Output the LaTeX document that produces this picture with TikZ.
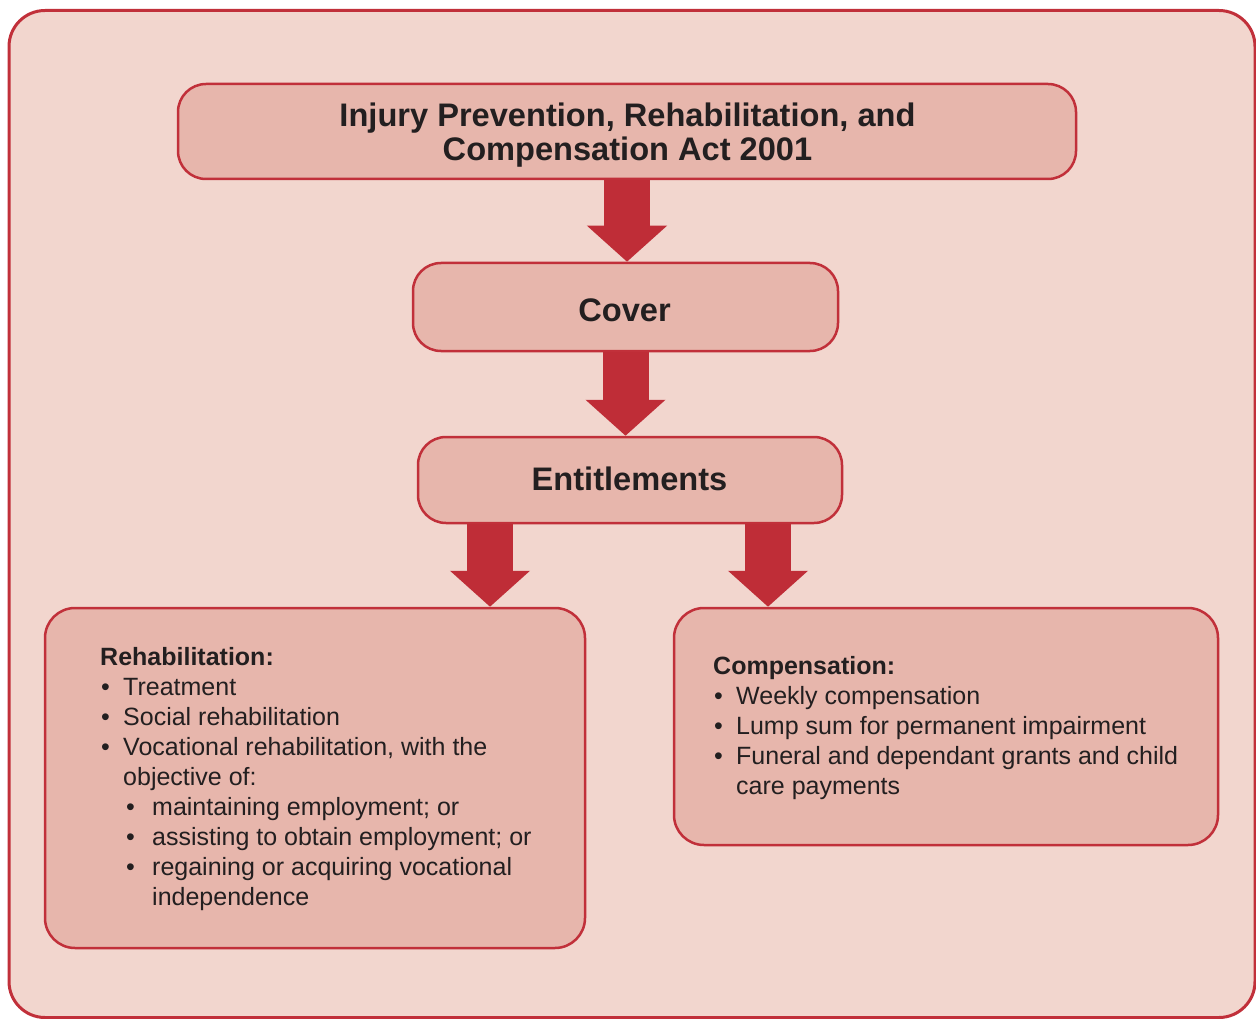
\documentclass[tikz,border=0pt]{standalone}
\usepackage{fontspec}
\setmainfont{Liberation Sans}
\usetikzlibrary{arrows.meta,calc}
\definecolor{bgpink}{HTML}{F2D6CE}
\definecolor{boxpink}{HTML}{E7B6AC}
\definecolor{edgered}{HTML}{C1303A}
\definecolor{arrowred}{HTML}{BF2D37}
\definecolor{inkdark}{HTML}{231F20}
\newcommand{\blt}{\makebox[23pt][l]{\hspace{1pt}•}}
\newcommand{\sblt}{\hspace{23pt}\makebox[29pt][l]{\hspace{3pt}•}}
\begin{document}
\begin{tikzpicture}[x=1pt,y=-1pt,
  box/.style={draw=edgered, fill=boxpink, line width=2.5pt, rounded corners=28pt, inner sep=0pt},
  headtext/.style={font=\fontsize{32.6}{32}\selectfont\bfseries, text=inkdark, inner sep=0pt, anchor=base},
  listtext/.style={font=\fontsize{25}{30}\selectfont, text=inkdark, inner sep=0pt, anchor=base west},
  bigarrow/.style={draw=arrowred, line width=46pt, -{Triangle[width=78pt,length=36pt]}}]
\useasboundingbox (0,0) rectangle (1256,1019);
\node[draw=edgered, fill=bgpink, line width=3pt, rounded corners=36pt, minimum width=1246pt, minimum height=1007pt, inner sep=0pt] (outer) at (632,514) {};
\node[box, minimum width=898pt, minimum height=95pt] (title) at (627,131.5) {};
\node[box, minimum width=425pt, minimum height=88pt] (cover) at (625.5,307) {};
\node[box, minimum width=424pt, minimum height=86pt] (ent) at (630,480) {};
\node[box, rounded corners=30pt, minimum width=540pt, minimum height=340pt] (rehab) at (315,778) {};
\node[box, rounded corners=30pt, minimum width=544pt, minimum height=237pt] (comp) at (946,726.5) {};
\node[headtext] (titletext) at (627.5,127) {\begin{tabular}[t]{@{}c@{}}Injury Prevention, Rehabilitation, and\\Compensation Act 2001\end{tabular}};
\node[headtext] (covertext) at (624.5,321) {Cover};
\node[headtext] (enttext) at (629.5,490) {Entitlements};
\draw[bigarrow] (title.south) -- (title.south |- cover.north);
\draw[bigarrow] (cover.south) -- (cover.south |- ent.north);
\coordinate (lfoot) at ($(ent.south)+(-140,0)$);
\coordinate (rfoot) at ($(ent.south)+(138,0)$);
\draw[bigarrow] (lfoot) -- (lfoot |- rehab.north);
\draw[bigarrow] (rfoot) -- (rfoot |- comp.north);
\node[listtext] (rehabtext) at (100,665) {\begin{tabular}[t]{@{}l@{}}
\textbf{Rehabilitation:}\\
\blt Treatment\\
\blt Social rehabilitation\\
\blt Vocational rehabilitation, with the\\
\hspace{23pt}objective of:\\
\sblt maintaining employment; or\\
\sblt assisting to obtain employment; or\\
\sblt regaining or acquiring vocational\\
\hspace{52pt}independence
\end{tabular}};
\node[listtext] (comptext) at (713,674) {\begin{tabular}[t]{@{}l@{}}
\textbf{Compensation:}\\
\blt Weekly compensation\\
\blt Lump sum for permanent impairment\\
\blt Funeral and dependant grants and child\\
\hspace{23pt}care payments
\end{tabular}};
\end{tikzpicture}
\end{document}
